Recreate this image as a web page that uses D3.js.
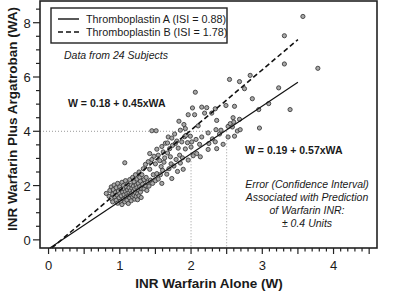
<!DOCTYPE html>
<html>
<head>
<meta charset="utf-8">
<script src="https://cdn.jsdelivr.net/npm/d3@7"></script>
<style>
  body { margin: 0; background: #fff; }
  svg { display: block; }
</style>
</head>
<body>
<svg id="chart" width="400" height="294"></svg>
<script>
// [W, WA] pairs
let scatterPoints = [
  [0.81,1.71],[0.85,1.60],[0.86,1.82],[0.88,1.52],[0.88,1.95],[0.90,1.68],[0.90,1.40],[0.91,1.85],[0.92,2.02],[0.93,1.58],
  [0.94,1.75],[0.95,1.46],[0.95,1.92],[0.96,1.65],[0.97,1.35],[0.97,2.08],[0.98,1.80],[0.99,1.55],[1.00,1.70],[1.00,1.95],
  [1.01,1.42],[1.02,1.86],[1.02,1.62],[1.03,2.12],[1.03,1.30],[1.04,1.76],[1.05,1.50],[1.05,2.00],[1.06,1.66],[1.06,1.88],
  [1.07,1.40],[1.07,2.84],[1.08,1.78],[1.08,2.18],[1.09,1.58],[1.09,1.95],[1.10,1.70],[1.10,1.46],[1.11,2.06],[1.11,1.84],
  [1.12,1.62],[1.12,1.34],[1.13,1.92],[1.13,1.74],[1.14,2.22],[1.14,1.54],[1.15,1.82],[1.15,1.66],[1.16,2.02],[1.16,1.44],
  [1.17,1.90],[1.17,1.72],[1.18,2.30],[1.18,1.58],[1.19,1.98],[1.19,1.80],[1.20,1.64],[1.20,2.14],[1.21,1.50],[1.21,1.88],
  [1.22,2.40],[1.22,1.74],[1.23,2.02],[1.23,1.60],[1.24,1.92],[1.24,2.24],[1.25,1.70],[1.25,1.48],[1.26,2.08],[1.26,1.84],
  [1.27,2.50],[1.27,1.62],[1.28,1.96],[1.28,2.30],[1.29,1.76],[1.29,2.16],[1.30,1.90],[1.30,1.56],
  [1.31,2.40],[1.32,2.05],[1.33,2.62],[1.34,2.22],[1.34,1.88],[1.36,2.00],[1.36,2.78],[1.37,2.30],
  [1.38,1.82],[1.39,2.12],[1.40,2.88],[1.41,1.98],[1.42,3.18],[1.42,2.60],[1.43,2.20],
  [1.45,4.02],[1.45,2.96],[1.46,2.08],[1.47,2.40],[1.48,3.08],[1.50,2.18],[1.50,2.80],[1.51,4.02],
  [1.52,3.34],[1.52,2.44],[1.54,2.24],[1.54,3.12],[1.56,2.92],[1.57,2.40],[1.58,2.70],
  [1.59,2.08],[1.59,3.44],[1.60,2.56],[1.61,3.24],[1.62,2.86],[1.63,3.02],[1.64,3.56],[1.66,2.42],
  [1.67,3.57],[1.67,3.20],[1.68,3.79],[1.69,2.62],[1.70,3.36],
  [1.71,3.06],[1.72,2.80],[1.73,3.75],[1.73,2.26],[1.74,3.48],[1.76,2.72],[1.77,3.90],[1.78,3.55],
  [1.79,2.96],[1.80,3.64],[1.81,2.52],[1.82,3.38],[1.83,4.37],[1.84,3.12],[1.85,2.83],[1.85,4.04],[1.87,3.61],
  [1.88,3.02],[1.89,2.60],[1.90,4.25],[1.91,3.80],[1.92,4.10],[1.92,3.35],[1.93,3.85],
  [1.95,3.58],[1.96,4.61],[1.96,2.94],[1.99,3.82],[2.00,3.42],[2.01,3.61],[2.02,4.86],[2.03,3.10],[2.05,4.61],
  [2.06,5.44],[2.07,3.70],[2.08,3.18],[2.10,4.20],
  [2.12,3.52],[2.13,3.06],[2.15,4.89],[2.15,3.79],[2.19,4.67],[2.22,4.87],[2.24,3.94],[2.24,3.33],
  [2.25,3.55],[2.29,4.67],[2.30,3.72],[2.34,4.83],[2.34,3.61],[2.35,4.06],[2.36,4.40],[2.36,3.36],[2.40,3.90],
  [2.42,4.04],[2.45,3.52],[2.49,4.95],[2.52,4.18],[2.52,3.79],[2.54,5.91],[2.55,4.28],[2.58,4.16],[2.59,4.50],[2.60,4.34],
  [2.61,4.92],[2.61,3.82],[2.65,4.01],[2.68,5.83],[2.68,4.44],[2.69,4.06],[2.75,5.57],
  [2.83,6.06],[2.86,5.20],[2.95,4.80],[2.96,4.12],[3.09,5.02],[3.23,5.60],[3.31,7.52],[3.31,6.48],[3.39,4.80],[3.57,8.23],
  [3.78,6.32]
]

// fits: W = intercept + slope x WA
let fitNames = ["Thromboplastin A (ISI = 0.88)", "Thromboplastin B (ISI = 1.78)"]
let fitIntercepts = [0.19, 0.18]
let fitSlopes = [0.57, 0.45]
let fitLabels = ["W = 0.19 + 0.57xWA", "W = 0.18 + 0.45xWA"]
let fitEndW = 3.5

let xTickLabels = [0, 1, 2, 3, 4]
let yTickLabels = [0, 2, 4, 6, 8]

// reference: WA = 4 maps to W = 2 (B) and W = 2.5 (A)
let refWA = 4
let refW = [2, 2.5]

let noteLines = ["Error (Confidence Interval)", "Associated with Prediction", "of Warfarin INR:", "\u00b1 0.4 Units"]

let textColor = "#1a1a1a"
let fontFam = "'Liberation Sans', Arial, Helvetica, sans-serif"

let svg = d3.select("#chart")

let plotLeft = 40, plotRight = 377, plotTop = 1, plotBottom = 248

let x = d3.scaleLinear()
  .domain([-0.12, 4.61])
  .range([plotLeft, plotRight])

let y = d3.scaleLinear()
  .domain([-0.3, 8.8])
  .range([plotBottom, plotTop])

// dotted reference lines
svg.append("line")
  .attr("x1", plotLeft)
  .attr("x2", x(refW[1]))
  .attr("y1", y(refWA))
  .attr("y2", y(refWA))
  .style("stroke", "#9a9a9a")
  .style("stroke-width", 1)
  .style("stroke-dasharray", "1,2")

svg.selectAll(".ref_v")
  .data(refW)
  .enter()
  .append("line")
  .attr("class", "ref_v")
  .attr("x1", d => x(d))
  .attr("x2", d => x(d))
  .attr("y1", y(refWA))
  .attr("y2", plotBottom)
  .style("stroke", "#9a9a9a")
  .style("stroke-width", 1)
  .style("stroke-dasharray", "1,2")

// scatter
svg.append("g")
  .selectAll("circle")
  .data(scatterPoints)
  .enter()
  .append("circle")
  .attr("cx", d => x(d[0]))
  .attr("cy", d => y(d[1]))
  .attr("r", 2.1)
  .style("fill", "#a8a8a8")
  .style("stroke", "#3c3c3c")
  .style("stroke-width", 0.9)

// regression lines, WA = (W - a) / b
let startWA = y.domain()[0]
for (let i = 0; i < fitSlopes.length; i++) {
  let a = fitIntercepts[i], b = fitSlopes[i]
  let pts = [[a + b * startWA, startWA], [fitEndW, (fitEndW - a) / b]]
  svg.append("path")
    .datum(pts)
    .attr("d", d3.line().x(d => x(d[0])).y(d => y(d[1])))
    .style("fill", "none")
    .style("stroke", "#111")
    .style("stroke-width", i == 0 ? 1.2 : 1.6)
    .style("stroke-dasharray", i == 0 ? null : "5,3")
}

// frame
svg.append("rect")
  .attr("x", plotLeft)
  .attr("y", plotTop)
  .attr("width", plotRight - plotLeft)
  .attr("height", plotBottom - plotTop)
  .style("fill", "none")
  .style("stroke", "#222")
  .style("stroke-width", 1.6)

// x axis ticks (minor every 0.1, longer at halves)
let xTicks = d3.range(0, 46).map(i => i / 10)
svg.append("g")
  .selectAll("line")
  .data(xTicks)
  .enter()
  .append("line")
  .attr("x1", d => x(d))
  .attr("x2", d => x(d))
  .attr("y1", plotBottom)
  .attr("y2", (d, i) => plotBottom + (i % 5 == 0 ? 6 : 3.5))
  .style("stroke", "#222")
  .style("stroke-width", 1.2)

svg.append("g")
  .selectAll("text")
  .data(xTickLabels)
  .enter()
  .append("text")
  .attr("x", d => x(d))
  .attr("y", 270)
  .text(d => d)
  .style("font-family", fontFam)
  .style("font-size", "13px")
  .style("fill", textColor)
  .style("text-anchor", "middle")

// y axis ticks (every 0.5, longer at even)
let yTicks = d3.range(0, 18).map(i => i / 2)
svg.append("g")
  .selectAll("line")
  .data(yTicks)
  .enter()
  .append("line")
  .attr("x1", plotLeft)
  .attr("x2", (d, i) => plotLeft - (i % 4 == 0 ? 7 : 4))
  .attr("y1", d => y(d))
  .attr("y2", d => y(d))
  .style("stroke", "#222")
  .style("stroke-width", 1.2)

svg.append("g")
  .selectAll("text")
  .data(yTickLabels)
  .enter()
  .append("text")
  .attr("x", 27)
  .attr("y", d => y(d) + 5)
  .text(d => d)
  .style("font-family", fontFam)
  .style("font-size", "13px")
  .style("fill", textColor)
  .style("text-anchor", "middle")

// axis titles
svg.append("text")
  .attr("x", 209)
  .attr("y", 288)
  .text("INR Warfarin Alone (W)")
  .style("font-family", fontFam)
  .style("font-weight", "bold")
  .style("font-size", "13.5px")
  .style("fill", textColor)
  .style("text-anchor", "middle")

svg.append("text")
  .attr("transform", "translate(17, 119) rotate(-90)")
  .text("INR Warfarin Plus Argatroban (WA)")
  .style("font-family", fontFam)
  .style("font-weight", "bold")
  .style("font-size", "13.5px")
  .style("fill", textColor)
  .style("text-anchor", "middle")

// legend
svg.append("rect")
  .attr("x", 51)
  .attr("y", 8)
  .attr("width", 176)
  .attr("height", 35)
  .style("fill", "#fff")
  .style("stroke", "#222")
  .style("stroke-width", 1.4)

let legend = svg.append("g")
  .selectAll("g")
  .data(fitNames)
  .enter()
  .append("g")
  .attr("transform", (d, i) => "translate(0," + (19 + i * 13) + ")")

legend.append("line")
  .attr("x1", 58)
  .attr("x2", 79)
  .attr("y1", 0)
  .attr("y2", 0)
  .style("stroke", "#111")
  .style("stroke-width", 1.4)
  .style("stroke-dasharray", (d, i) => i == 0 ? null : "5,3")

legend.append("text")
  .attr("x", 86)
  .attr("y", 4)
  .text(d => d)
  .style("font-family", fontFam)
  .style("font-size", "10.8px")
  .style("fill", textColor)

// annotations
svg.append("text")
  .attr("x", 64)
  .attr("y", 59)
  .text("Data from 24 Subjects")
  .style("font-family", fontFam)
  .style("font-style", "italic")
  .style("font-size", "10.5px")
  .style("fill", textColor)

svg.append("text")
  .attr("x", 68)
  .attr("y", 107)
  .text(fitLabels[1])
  .style("font-family", fontFam)
  .style("font-weight", "bold")
  .style("font-size", "10.5px")
  .style("fill", textColor)

svg.append("text")
  .attr("x", 245)
  .attr("y", 154)
  .text(fitLabels[0])
  .style("font-family", fontFam)
  .style("font-weight", "bold")
  .style("font-size", "10.5px")
  .style("fill", textColor)

svg.append("g")
  .selectAll("text")
  .data(noteLines)
  .enter()
  .append("text")
  .attr("x", 307)
  .attr("y", (d, i) => 188 + i * 13)
  .text(d => d)
  .style("font-family", fontFam)
  .style("font-style", "italic")
  .style("font-size", "10.5px")
  .style("fill", textColor)
  .style("text-anchor", "middle")
</script>
</body>
</html>
